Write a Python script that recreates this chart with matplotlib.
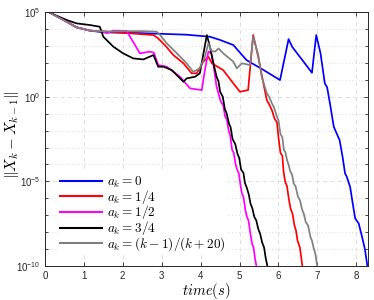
import numpy as np
import matplotlib
matplotlib.use("Agg")
import matplotlib.pyplot as plt
from matplotlib.ticker import NullFormatter, FixedLocator

# ---- data (time in s, log10 of ||X_k - X_{k-1}||) ----
blue_t = [0.1, 0.56, 0.81, 1.16, 1.5, 2.5, 3.64, 4.24, 4.5, 4.84, 5.18, 5.6, 6.04, 6.26, 6.35, 6.6, 6.86, 6.97, 7.08, 7.19, 7.25, 7.33, 7.42, 7.5, 7.57, 7.65, 7.71, 7.75, 7.84, 7.9, 7.97, 8.02, 8.06, 8.15, 8.22, 8.28]
blue_l = [5.0, 4.43, 4.1, 3.9, 3.8, 3.75, 3.66, 3.54, 3.35, 3.05, 2.16, 1.6, 0.98, 3.4, 2.95, 2.2, 1.41, 3.64, 2.56, 0.79, 0.55, -0.5, -1.77, -2.2, -2.56, -3.6, -4.53, -4.7, -5.32, -6.2, -7.19, -7.35, -7.48, -8.3, -9.0, -9.94]

red_t = [0.1, 0.56, 0.81, 1.16, 1.6, 2.19, 2.79, 2.91, 3.08, 3.3, 3.56, 3.77, 3.9, 4.07, 4.2, 4.29, 4.58, 4.84, 5.01, 5.22, 5.35, 5.48, 5.57, 5.7, 5.76, 5.83, 5.9, 5.96, 6.0, 6.05, 6.1, 6.13, 6.17, 6.22, 6.27, 6.31, 6.36, 6.41, 6.45, 6.49, 6.55, 6.61]
red_l = [5.0, 4.43, 4.1, 3.9, 3.84, 3.74, 3.64, 3.44, 3.05, 2.46, 1.97, 1.38, 1.38, 2.07, 2.36, 1.97, 1.57, 0.79, 0.29, 0.39, 3.64, 2.36, 1.28, -0.2, -0.45, -0.79, -1.3, -1.5, -2.4, -3.3, -3.5, -4.4, -5.0, -5.3, -6.1, -6.6, -6.9, -7.6, -7.9, -8.5, -8.9, -9.94]

mag_t = [0.1, 0.56, 0.81, 1.16, 1.5, 1.59, 1.76, 2.1, 2.44, 2.7, 2.8, 2.91, 3.13, 3.47, 3.73, 4.03, 4.11, 4.2, 4.27, 4.33, 4.41, 4.47, 4.52, 4.58, 4.63, 4.67, 4.72, 4.76, 4.81, 4.85, 4.9, 4.94, 4.98, 5.03, 5.06, 5.1, 5.15, 5.19, 5.23, 5.28, 5.32, 5.36, 5.4, 5.43]
mag_l = [5.0, 4.43, 4.1, 3.9, 3.84, 3.75, 3.9, 3.88, 2.56, 2.66, 2.6, 1.87, 1.77, 1.18, 0.49, 0.39, 1.57, 2.66, 2.6, 1.87, 0.59, 0.1, -0.3, -0.5, -1.18, -1.3, -2.0, -2.3, -3.15, -3.3, -4.0, -4.33, -4.5, -5.3, -5.71, -5.9, -6.7, -7.09, -7.3, -8.1, -8.66, -8.9, -9.6, -9.94]

blk_t = [0.1, 0.26, 0.56, 0.81, 1.16, 1.41, 1.5, 1.76, 2.01, 2.27, 2.53, 2.79, 2.91, 3.05, 3.26, 3.56, 3.64, 3.86, 3.98, 4.16, 4.24, 4.33, 4.41, 4.46, 4.5, 4.57, 4.62, 4.67, 4.73, 4.77, 4.82, 4.89, 4.95, 4.99, 5.04, 5.1, 5.14, 5.19, 5.24, 5.28, 5.33, 5.38, 5.43, 5.48, 5.53, 5.58, 5.63, 5.67, 5.71]
blk_l = [5.0, 4.82, 4.53, 4.33, 4.23, 4.13, 3.54, 2.95, 2.56, 2.26, 2.2, 2.46, 1.77, 1.77, 1.57, 0.88, 1.08, 1.18, 1.38, 3.64, 2.95, 1.97, 1.18, 0.9, 0.3, 0.0, -0.7, -1.0, -1.6, -1.8, -2.5, -2.8, -3.4, -3.6, -4.3, -4.5, -5.1, -5.4, -5.8, -6.3, -6.6, -7.1, -7.3, -7.8, -8.1, -8.6, -8.9, -9.5, -9.94]

gry_t = [0.1, 0.56, 0.81, 1.16, 1.6, 2.0, 2.5, 2.87, 2.96, 3.13, 3.39, 3.64, 3.81, 3.98, 4.11, 4.2, 4.28, 4.37, 4.46, 4.58, 4.84, 4.93, 5.06, 5.27, 5.35, 5.48, 5.57, 5.7, 5.76, 5.83, 5.88, 5.96, 6.0, 6.05, 6.1, 6.14, 6.18, 6.22, 6.27, 6.3, 6.35, 6.39, 6.44, 6.5, 6.55, 6.61, 6.65, 6.7, 6.76, 6.82, 6.86, 6.9, 6.95, 6.99]
gry_l = [5.0, 4.43, 4.1, 3.9, 3.85, 3.87, 3.87, 3.84, 3.64, 3.15, 2.56, 1.97, 1.47, 1.67, 2.36, 3.15, 2.7, 2.66, 2.85, 2.56, 2.07, 1.67, 1.97, 1.87, 3.54, 2.46, 1.18, 0.2, 0.0, -0.39, -0.6, -1.18, -1.4, -2.2, -2.4, -3.15, -3.3, -3.74, -4.1, -4.4, -4.6, -5.12, -5.3, -5.9, -6.1, -6.69, -6.9, -7.4, -7.6, -8.27, -8.5, -8.9, -9.3, -9.94]

labels = [r"$a_k=0$", r"$a_k=1/4$", r"$a_k=1/2$", r"$a_k=3/4$", r"$a_k=(k-1)/(k+20)$"]
colors = ["#0000ff", "#ff0000", "#ff00ff", "#000000", "#808080"]
series = [(blue_t, blue_l), (red_t, red_l), (mag_t, mag_l), (blk_t, blk_l), (gry_t, gry_l)]

plt.rcParams['mathtext.fontset'] = 'cm'
plt.rcParams['font.family'] = ['Liberation Sans', 'DejaVu Sans']

fig = plt.figure(figsize=(3.74, 3.0), dpi=100)
ax = fig.add_axes([0.120, 0.113, 0.864, 0.847])

for (t, l), c, lab in zip(series, colors, labels):
    ax.plot(t, np.power(10.0, l), color=c, lw=1.25, label=lab)

ax.set_yscale('log')
ax.set_xlim(0, 8.3)
ax.set_ylim(1e-10, 1e5)
ax.set_xticks(range(0, 9))
ax.yaxis.set_major_locator(FixedLocator([1e-10, 1e-5, 1e0, 1e5]))
ax.yaxis.set_minor_locator(FixedLocator([10.0**k for k in range(-10, 6)]))
ax.yaxis.set_minor_formatter(NullFormatter())
ax.tick_params(which='both', direction='in', top=True, right=True, labelsize=7, width=0.6, colors='#262626')
ax.tick_params(which='major', length=3)
ax.tick_params(which='minor', length=2)
ax.grid(True, which='major', ls=(0, (5, 4)), color='#d9d9d9', lw=0.6)
ax.grid(True, which='minor', axis='y', ls=(0, (1, 3)), color='#cfcfcf', lw=0.6)
ax.set_axisbelow(True)
for s in ax.spines.values():
    s.set_linewidth(0.7)
    s.set_color('#262626')

ax.set_xlabel(r"$time(s)$", fontsize=10.5)
ax.xaxis.set_label_coords(0.5, -0.06)
ax.set_ylabel(r"$\|X_k-X_{k-1}\|$", fontsize=11)
ax.yaxis.set_label_coords(-0.074, 0.516)

leg = ax.legend(loc='upper left', bbox_to_anchor=(0.038, 0.37), borderaxespad=0,
                frameon=True, fontsize=9.5,
                handlelength=3.2, handletextpad=0.35, labelspacing=-0.17, borderpad=0.2)
leg.get_frame().set_edgecolor('none')
leg.get_frame().set_facecolor('white')
leg.get_frame().set_alpha(1.0)
for h in leg.get_lines():
    h.set_linewidth(1.5)

fig.savefig("out.png", dpi=100)
